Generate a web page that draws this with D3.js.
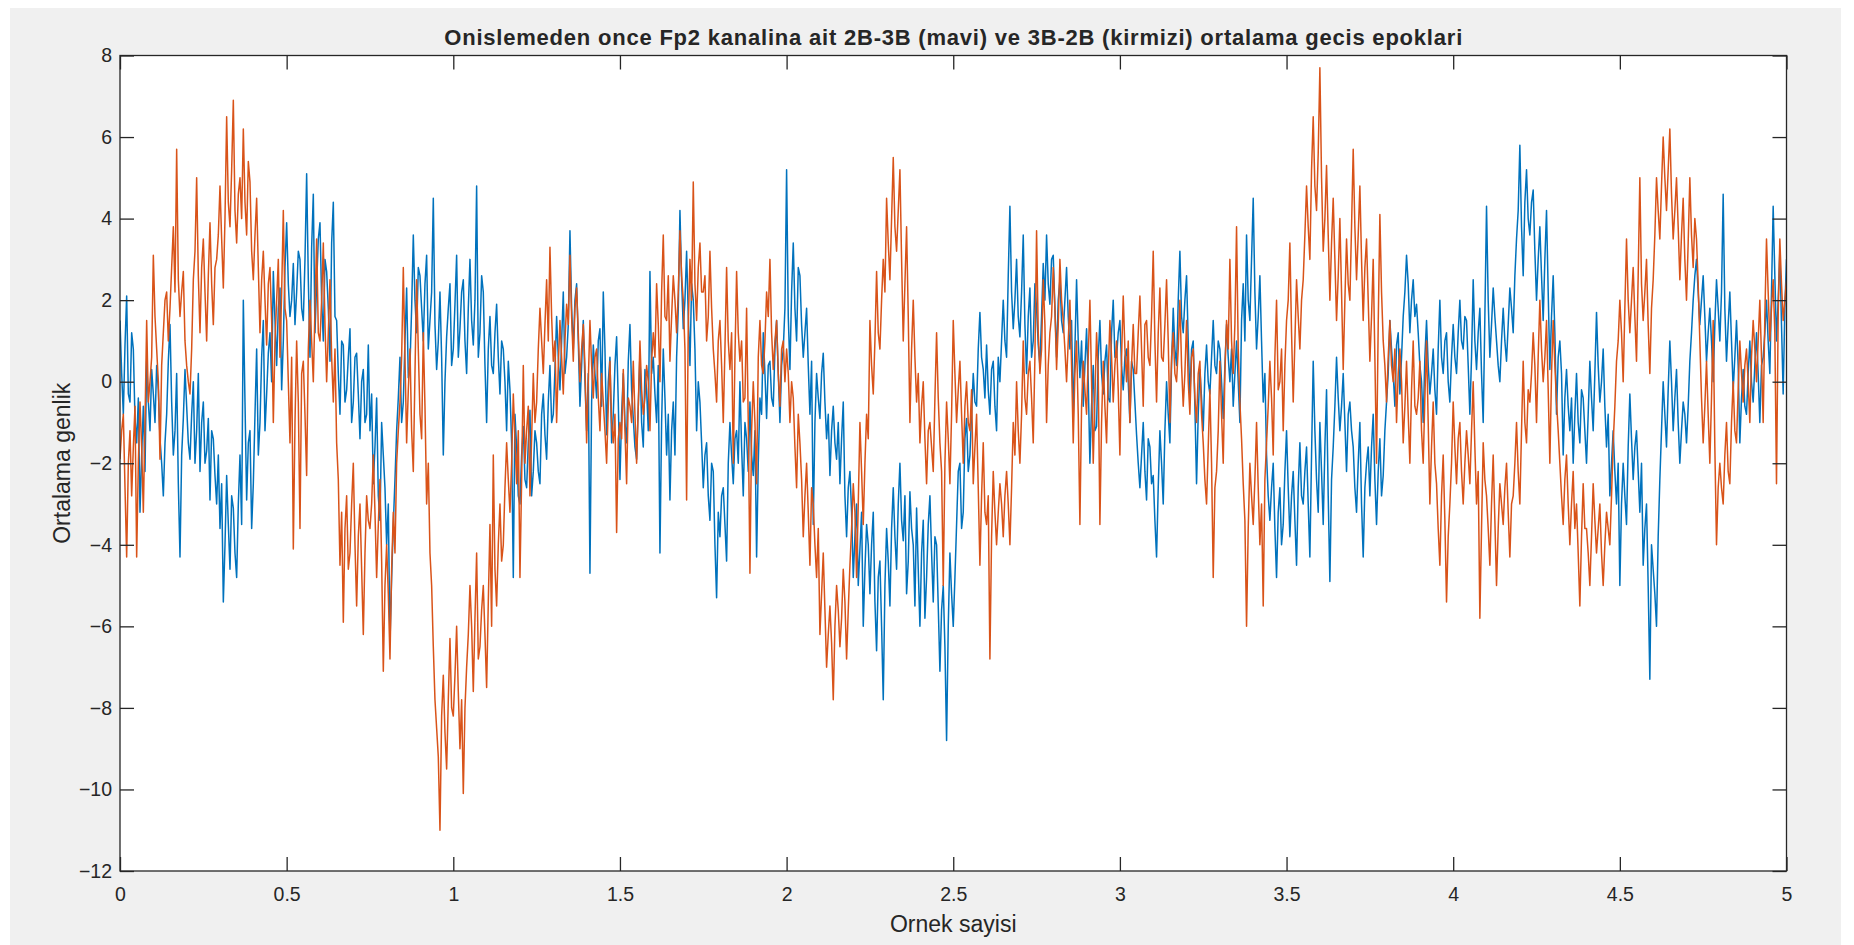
<!DOCTYPE html>
<html>
<head>
<meta charset="utf-8">
<script src="https://cdn.jsdelivr.net/npm/d3@7"></script>
<style>
  html, body { margin: 0; padding: 0; background: #ffffff; }
  svg { display: block; }
  text { font-family: "Liberation Sans", Arial, Helvetica, sans-serif; fill: #262626; }
</style>
</head>
<body>
<svg id="chart" width="1854" height="945"></svg>
<script>
// Averaged transition epochs of channel Fp2.
// Samples on the 0.01 grid (x = 0, 0.01, ..., 5) ...
const mavi = [
  1.5, -0.8, 2.1, -0.5, 0.8,   -1.5, -3.2, -0.6, 0.5, -1.2,
  -0.3, 0.4, -1.4, -2.8, -0.8,  1.4, -1.8, 0.2, -4.3, -0.9,
  -0.6, -1.9, 0.0, -1.2, -2.2,  -0.5, -1.7, -2.9, -1.4, -3.0,
  -3.6, -5.4, -2.3, -4.6, -3.1, -4.8, -1.8, 2.0, -2.9, -1.2,
  -2.5, 0.8, -1.0, 1.5, -0.3,   1.2, 2.7, 0.4, 2.3, 1.0,
  3.9, 1.6, 2.9, 2.2, 3.0,      1.5, 5.1, 0.6, 4.6, 2.4,
  3.9, 1.0, 2.7, 0.5, 4.4,      1.5, -0.8, 0.9, -0.2, 1.3,
  -0.5, 0.7, -1.4, 0.3, -0.8,   -1.2, -2.5, -0.4, -3.4, -1.8,
  -4.0, -6.4, -3.5, -1.2, 0.6,  -0.5, 2.3, 0.4, 3.6, 1.2,
  2.6, 1.0, 3.1, 1.5, 4.5,      0.3, 2.2, -1.8, 1.1, 2.4,
  0.8, 3.1, 1.3, 2.5, 0.2,      3.0, 0.9, 4.8, 1.2, 2.2,
  -1.0, 1.6, 0.2, 1.9, -0.3,    0.8, -1.2, -0.2, -4.8, -1.6,
  -3.0, -1.1, -2.6, -0.7, -2.2, -1.5, -2.5, -0.3, -1.9, 0.4,
  -0.8, 1.6, -0.2, 2.2, 0.6,    3.7, 0.8, 2.4, -0.6, 1.5,
  -1.2, -4.7, 0.9, -0.4, 1.3,   2.2, -1.3, 0.6, -0.8, 1.1,
  -2.4, 0.2, -1.5, 1.4, -0.9,   -1.9, 0.7, -1.6, -0.2, 2.7,
  0.6, -1.0, -4.2, 0.8, -1.8,   -2.9, -0.5, 0.6, 4.2, 1.3,
  3.2, 0.4, 2.0, -1.2, -0.5,    -2.6, -1.5, -3.4, -2.2, -5.3,
  -3.8, -2.6, -4.4, -1.0, -2.5, -1.2, 0.0, -2.8, -1.4, -0.5,
  -2.3, -4.3, -0.4, 1.2, -0.9,  0.5, -0.6, 1.5, -1.0, 0.8,
  5.2, 0.3, 3.4, 1.0, 2.6,      0.6, 1.8, -0.8, -3.5, 0.2,
  -0.9, 0.7, -1.4, -2.3, -0.6,  -1.9, -2.5, -0.5, -3.8, -2.2,
  -4.8, -3.0, -4.1, -6.0, -3.5, -5.2, -3.2, -6.6, -4.4, -7.8,
  -3.6, -5.5, -2.6, -4.6, -2.0, -3.9, -5.2, -2.7, -4.0, -3.1,
  -6.0, -3.4, -4.8, -2.8, -5.4, -4.0, -7.1, -5.0, -8.8, -4.2,
  -6.0, -3.5, -2.0, -3.2, -0.9, -1.8, 0.2, -0.6, 1.7, 0.3,
  0.9, -0.8, 0.5, -1.2, 0.0,    2.0, 0.6, 4.3, 1.3, 3.0,
  1.1, 3.6, 0.2, 2.3, 1.0,      1.8, 0.4, 2.9, 3.6, 1.9,
  3.1, 0.6, 2.5, 1.2, 2.8,      0.8, -0.9, 2.5, 0.1, -0.6,
  1.3, -2.0, 0.4, -1.1, 1.5,    -0.3, 0.9, -0.5, 2.0, 0.6,
  1.5, -0.2, 0.8, -1.0, 0.3,    -1.3, -2.6, -1.0, -2.9, -1.6,
  -2.3, -4.3, -1.2, -3.0, 0.0,  -1.5, 1.8, 0.4, 3.2, 1.2,
  2.6, -0.4, 1.0, -2.5, 0.3,    -1.2, 0.9, -0.3, 1.5, 0.2,
  0.8, -0.9, 1.4, 0.0, -0.6,    1.0, -1.0, 2.4, 3.6, 1.5,
  4.5, 0.8, 2.6, -0.5, -1.8,    -3.4, -2.0, -4.8, -2.6, -3.5,
  -1.2, -3.8, -2.2, -4.5, -1.5, -3.0, -1.6, -4.3, 0.5, -2.4,
  -1.0, -3.5, -0.2, -4.9, -1.6, 0.6, -1.2, 0.2, -2.2, -0.5,
  -1.6, -3.2, -1.0, -4.3, -2.0, -2.8, -0.8, -3.5, -1.4, -2.3,
  -0.5, 1.5, 0.2, 0.9, -0.3,    1.6, 3.1, 1.2, 2.5, 1.9,
  0.4, -1.0, 1.5, -0.3, 0.8,    -0.8, 2.0, 0.2, 1.2, -0.5,
  1.4, 0.2, 2.0, 0.8, 1.5,      -0.8, 2.5, 0.3, 1.8, -1.0,
  4.3, 0.6, 2.3, 1.0, 0.0,      1.8, 0.5, 2.3, 1.2, 3.5,
  5.8, 2.6, 5.2, 3.6, 4.7,      2.0, 3.8, 1.5, 4.2, 0.3,
  2.6, -0.8, 1.0, -1.8, 0.3,    -1.2, -2.0, 0.2, -1.5, -0.4,
  -2.0, 0.5, -1.2, 1.7, -0.5,   0.8, -1.6, -2.8, -1.2, -3.0,
  -5.0, -2.0, -3.5, -0.3, -2.4, -1.2, -3.2, -4.5, -3.0, -7.3,
  -4.6, -6.0, -2.4, 0.0, -1.6,  1.0, -1.2, 0.3, -2.0, -0.5,
  -1.5, 0.5, 2.0, 3.0, 1.4,     2.6, 0.5, 1.8, 0.0, 2.5,
  1.0, 4.6, 0.5, 2.2, -0.2,     1.5, -1.5, 0.3, -0.8, 1.0,
  -0.5, 1.2, -1.0, 0.6, 2.0,    0.2, 4.3, 1.0, 3.2, -0.3,
  3.0
];

const kirmizi = [
  -1.9, -0.8, -4.3, -1.2, -1.6, -4.3, -0.5, -3.2, 1.5, 0.0,
  3.1, 0.8, -1.9, 1.2, 2.2,     1.8, 3.8, 5.7, 1.6, 2.7,
  0.4, -0.3, 2.5, 5.0, 1.2,     3.5, 1.0, 3.9, 1.4, 3.0,
  4.8, 2.3, 6.5, 3.8, 6.9,      3.4, 5.0, 6.2, 3.6, 4.9,
  2.5, 4.5, 1.2, 3.2, 0.9,      2.8, -1.0, 2.0, 0.6, 4.2,
  1.5, -1.5, -4.1, 1.0, -3.6,   0.5, -2.3, 2.0, 0.0, 3.5,
  1.0, 3.4, 0.0, 2.5, -0.5,     -1.5, -4.5, -5.9, -2.8, -4.2,
  -2.0, -5.5, -3.0, -6.2, -2.8, -3.6, -1.8, -4.8, -2.4, -7.1,
  -4.0, -6.8, -3.2, -2.0, -0.5, 2.8, -1.5, 0.8, -2.2, 2.5,
  -0.8, 1.2, -3.0, -4.2, -6.5,  -8.5, -11.0, -7.2, -9.5, -6.3,
  -8.2, -6.0, -9.0, -10.1, -7.0, -5.0, -7.6, -4.2, -6.5, -5.0,
  -7.5, -3.5, -1.8, -5.5, -3.0, -4.0, -1.5, -3.2, -0.3, -2.5,
  -4.8, 0.4, -1.2, -2.8, 0.2,   -0.5, 1.8, 0.2, 2.5, 3.3,
  0.5, -1.0, 1.5, -0.3, 1.9,    3.1, 0.5, 2.3, 0.0, 1.4,
  -1.5, 1.5, -0.4, 0.8, -1.2,   -0.5, -2.0, 0.5, -1.5, -3.7,
  -1.0, 0.3, -2.5, -0.6, 0.5,   -2.0, 1.0, -0.8, 0.4, -1.2,
  1.2, 2.4, 0.0, 3.6, 1.5,      0.5, 2.6, 1.2, 3.7, 2.0,
  -2.9, 3.0, 4.9, 1.5, 3.4,     2.2, 1.0, 3.2, 0.8, -0.5,
  1.5, -1.0, 2.8, 0.3, -2.0,    2.7, 0.5, -0.5, 1.8, -4.7,
  0.0, -2.5, 1.5, 0.2, 2.2,     3.0, 0.3, 1.5, -0.6, 1.0,
  0.8, -1.0, -0.4, -2.6, -1.5,  -3.8, -2.0, -4.5, -3.0, -4.8,
  -6.2, -4.2, -7.0, -5.5, -7.8, -5.0, -6.5, -4.6, -6.8, -4.5,
  -2.5, -4.8, -1.0, -3.5, -0.8, 1.5, -0.3, 2.7, 0.8, 3.0,
  4.5, 2.5, 5.5, 3.2, 5.2,      1.0, 3.8, -1.0, 2.0, -0.5,
  -1.5, 0.0, -2.5, -1.0, -2.2,  1.2, -1.5, -5.0, -0.5, -2.5,
  1.5, -1.0, 0.5, -2.0, 0.0,    -1.2, -2.5, -0.8, -4.5, -1.5,
  -3.5, -6.8, -2.2, -4.0, -2.5, -3.8, -2.2, -4.0, -1.0, 0.0,
  -2.0, 1.0, -0.8, 0.5, -1.5,   3.7, 0.2, 2.5, -1.0, 1.2,
  2.8, 0.3, 3.0, 1.5, 0.0,      2.0, -1.5, 1.0, -3.5, 0.5,
  -0.8, 2.0, -2.0, 1.2, -3.5,   0.5, -1.5, 1.5, -0.5, 1.0,
  -1.8, 2.1, 0.0, -1.0, 1.4,    0.2, 2.1, -0.6, 1.5, 0.4,
  3.2, -0.5, 2.3, 0.5, 2.5,     -1.0, 1.2, 0.0, 2.0, -0.6,
  1.5, -0.8, 0.8, -1.0, 0.5,    -1.5, -3.0, -0.2, -4.8, -2.2,
  0.5, -2.0, 1.5, 3.0, 0.2,     3.8, -0.5, -2.5, -6.0, -2.0,
  -3.5, -1.0, -4.0, -5.5, -1.5, 0.5, -1.8, 2.0, 0.0, -1.2,
  1.5, 3.4, -0.5, 2.5, 0.8,     2.5, 4.8, 3.0, 6.5, 4.2,
  7.7, 3.2, 5.3, 2.0, 4.5,      1.5, 4.0, 0.3, 3.5, 2.0,
  5.7, 2.5, 4.8, 1.5, 3.5,      0.5, 3.0, -2.0, 4.1, 1.0,
  -0.5, 1.5, 0.0, -1.0, 0.8,    -1.5, 0.5, -2.0, 1.0, -0.8,
  0.5, -2.0, 1.0, -3.0, -0.5,   -2.5, -4.5, -1.8, -5.4, -3.0,
  -0.5, -2.5, -1.0, -3.0, -1.2, -2.5, 0.0, -3.0, -5.8, -1.5,
  -2.8, -4.5, -1.8, -5.0, -2.5, -3.5, -2.0, -4.3, -2.8, -1.0,
  -3.0, 0.5, -1.5, -0.5, 1.2,   -1.0, 2.0, 0.0, 1.5, -2.0,
  1.5, -0.5, -2.0, -3.5, -1.8,  -4.0, -2.2, -3.0, -5.5, -2.5,
  -3.6, -5.0, -2.5, -4.2, -3.0, -5.0, -3.2, -4.0, -1.5, 0.5,
  2.0, 0.0, 3.5, 1.2, 2.8,      0.5, 5.0, 1.5, 3.0, 0.2,
  2.5, 5.0, 3.5, 6.0, 4.2,      6.2, 3.5, 5.0, 2.5, 4.5,
  2.0, 5.0, 2.8, 3.5, 1.0,      -1.5, 0.5, -2.0, 1.5, -4.0,
  -2.0, -3.0, -1.0, -2.5, 0.0,  -1.5, 1.0, -0.5, 0.8, -1.0,
  1.5, 0.0, 2.0, -1.0, 3.5,     1.0, 2.5, -2.5, 3.5, 1.5,
  2.5
];

// ... and the samples half way between them (x = 0.005, 0.015, ..., 4.995)
const maviAra = [
  0.2, 0.9, -0.3, 1.2, -0.9,    -0.4, -1.8, -2.2, -0.5, 0.3,
  -1.0, -0.2, -2.0, -1.5, 0.5,  -0.5, -1.2, -2.5, -1.8, 0.3,
  -1.5, -0.8, -2.0, 0.2, -1.0,  -2.0, -0.9, -1.2, -2.3, -1.8,
  -2.5, -4.0, -3.5, -2.8, -4.2, -3.0, -3.5, -0.5, -1.5, -3.6,
  -0.8, -1.8, 0.6, -1.2, 0.7,   0.0, 1.5, 1.8, -0.2, 2.8,
  2.4, 2.0, 1.4, 3.2, 1.8,      3.0, 2.5, 3.3, 1.2, 3.5,
  2.0, 3.0, 1.8, 3.4, 1.6,      0.2, 1.0, -0.5, 0.6, -1.0,
  0.6, -0.3, 0.0, -1.0, 0.9,    -0.3, -1.6, -2.8, -1.0, -2.6,
  -3.0, -4.8, -2.4, -0.4, -1.0, 1.0, 0.1, 1.8, 2.0, 2.8,
  1.8, 2.4, 0.8, 2.2, 1.4,      1.0, 0.6, 0.0, 1.8, 0.4,
  1.9, 0.6, 2.2, 1.0, 1.8,      1.5, 2.0, 0.6, 2.6, 0.4,
  0.8, 0.4, 1.2, 0.6, 1.0,      0.0, 0.5, -1.5, -0.8, -2.8,
  -1.8, -2.4, -1.5, -2.8, -1.2, -2.2, -0.8, -1.3, -0.5, -1.0,
  0.3, 0.6, 1.0, 0.2, 1.4,      1.8, 2.0, 1.0, 0.4, 0.0,
  0.2, -0.5, 0.2, 1.0, -0.6,    0.8, 0.0, -1.5, 0.4, -0.5,
  -0.8, -1.0, 0.5, -0.2, -1.6,  -0.6, -1.0, 0.3, -1.2, 0.2,
  -0.3, 0.4, -1.0, -0.4, -0.8,  -1.2, -1.8, 1.8, 2.5, 2.0,
  1.6, 2.4, 0.8, 0.0, -1.5,     -1.8, -2.8, -2.0, -4.0, -3.2,
  -2.8, -3.5, -2.0, -1.8, -1.4, -2.0, -1.6, -1.0, -2.2, -1.8,
  -1.2, -2.0, -0.8, 0.2, 0.4,   -0.4, 0.8, 0.2, 0.4, 1.8,
  1.6, 2.2, 1.8, 2.8, 1.4,      1.2, 0.4, 0.5, -1.0, -0.4,
  0.2, -0.5, -0.8, -1.2, -1.5,  -1.0, -1.4, -2.8, -2.6, -3.2,
  -3.8, -5.0, -3.2, -4.6, -4.0, -4.0, -5.4, -4.8, -6.0, -5.0,
  -4.4, -3.6, -3.8, -3.0, -3.4, -2.8, -4.4, -3.6, -5.5, -4.6,
  -4.2, -5.8, -3.5, -4.2, -3.8, -5.5, -5.6, -6.5, -6.0, -5.2,
  -4.8, -2.2, -3.6, -1.4, -2.2, -0.8, -0.5, 0.8, 0.6, -0.4,
  -0.2, 0.3, -0.6, 0.6, 1.0,    1.0, 2.6, 2.2, 2.0, 1.6,
  2.2, 1.4, 1.6, 0.6, 2.4,      0.9, 1.6, 2.0, 2.4, 3.0,
  1.8, 2.0, 1.5, 2.0, 1.6,      1.5, 0.8, 1.0, 1.0, 0.4,
  0.0, -0.6, -1.2, 0.6, 0.2,    0.5, -0.4, 1.2, 0.6, 1.2,
  0.4, 0.6, 0.0, 0.5, -0.5,     -2.0, -1.8, -2.2, -1.4, -2.5,
  -3.4, -2.6, -2.0, -1.2, -0.8, 0.4, 0.8, 2.0, 1.6, 2.0,
  1.0, 0.8, -0.6, -0.8, -0.4,   0.2, 0.0, 0.6, 0.4, 1.0,
  0.0, 0.4, 0.6, 0.8, 0.2,      0.0, 1.5, 1.0, 2.0, 3.0,
  2.2, 1.6, 1.0, 0.2, -2.8,     -2.6, -3.6, -3.2, -4.0, -2.2,
  -2.6, -2.8, -3.4, -2.6, -2.8, -2.2, -3.0, -1.8, -1.2, -3.2,
  -2.2, -1.6, -2.8, -2.4, -0.6, -0.4, -0.6, -1.0, -0.8, -1.2,
  -2.6, -2.0, -3.0, -2.6, -1.6, -1.6, -2.4, -2.2, -2.8, -1.2,
  0.2, 0.8, -0.6, 1.2, 0.6,     2.2, 2.4, 2.0, 1.6, 1.2,
  0.0, 0.6, 0.4, 0.2, -0.2,     0.8, 0.6, 1.0, 0.0, 0.6,
  0.6, 1.2, 1.0, 1.6, 0.4,      0.6, 1.0, 1.2, 0.2, 1.6,
  2.0, 1.4, 1.6, 0.4, 1.0,      1.0, 1.4, 1.8, 2.6, 4.2,
  3.8, 4.4, 4.0, 4.4, 3.2,      3.0, 2.6, 3.0, 2.2, 1.6,
  1.2, 0.6, 0.2, -0.4, -0.6,    -0.4, -0.8, -1.0, -0.2, -1.2,
  -0.8, -0.4, 0.2, 0.4, 0.0,    -0.6, -0.8, -2.0, -2.2, -2.0,
  -3.0, -2.8, -1.6, -1.4, -1.6, -2.2, -2.0, -3.6, -5.0, -4.0,
  -5.2, -3.8, -1.2, -0.8, -0.2, 0.0, -0.4, -1.0, -1.2, -0.8,
  -0.6, 1.2, 2.6, 2.2, 2.0,     1.6, 1.2, 1.0, 1.4, 1.8,
  2.2, 1.8, 1.4, 1.0, 0.6,      0.4, -0.4, -0.6, 0.2, 0.0,
  0.4, 0.2, 0.4, 1.2, 1.0,      2.2, 2.6, 2.0, 1.4, 1.8
];

const kirmiziAra = [
  -1.2, -2.6, -2.0, -2.8, -0.6, -2.0, -1.6, -1.0, -0.5, 0.6,
  1.6, 0.0, 0.4, 2.0, 1.0,      2.8, 2.2, 2.5, 2.2, 1.0,
  0.0, 0.8, 3.2, 2.6, 2.8,      2.2, 2.6, 2.4, 2.8, 3.6,
  3.5, 4.0, 4.4, 5.2, 4.2,      4.6, 4.0, 4.4, 5.4, 3.2,
  3.6, 2.8, 2.5, 2.0, 2.4,      1.5, 1.0, 3.0, 2.2, 1.8,
  0.0, 0.6, -1.0, -0.5, 0.2,    -0.8, 0.8, 1.0, 1.8, 1.2,
  2.0, 1.4, 1.2, 0.6, 0.8,      -2.4, -3.2, -3.6, -4.6, -3.0,
  -4.0, -3.8, -4.6, -4.2, -3.4, -3.0, -3.2, -3.5, -4.4, -5.0,
  -5.2, -4.6, -4.2, -1.2, 0.6,  0.6, -0.2, -1.2, 0.2, 0.8,
  -1.4, -0.6, -2.0, -5.0, -7.8, -9.2, -8.2, -8.6, -7.8, -8.0,
  -7.2, -7.6, -7.8, -8.0, -6.2, -6.0, -5.8, -6.8, -5.6, -6.2,
  -5.4, -6.0, -4.6, -4.0, -4.4, -2.6, -2.4, -2.0, -1.4, -1.2,
  -2.4, -2.0, -0.6, -1.4, -1.0, 0.8, 1.0, 1.4, 1.0, 1.6,
  1.0, 0.4, 0.6, 1.0, 1.4,      1.6, 1.8, 1.2, 0.8, 0.4,
  0.0, 0.4, 0.6, -0.4, 0.2,     -1.2, -0.6, -1.0, -0.8, -1.4,
  -1.4, -1.2, -0.4, -1.0, -0.8, -0.6, -0.2, -0.4, 0.0, 0.5,
  0.6, 1.4, 2.2, 1.6, 2.6,      1.6, 2.0, 2.2, 2.6, 0.8,
  1.4, 2.0, 2.4, 2.8, 2.2,      2.6, 1.6, 1.8, 0.2, 1.0,
  0.4, 0.8, 1.0, 1.2, 0.6,      1.2, 1.0, -0.4, -1.0, -1.2,
  -1.0, 0.6, 0.4, 1.0, 1.6,     1.2, 1.0, 0.2, 0.8, 0.0,
  0.2, 0.0, -1.6, -0.8, -2.4,   -2.8, -3.2, -2.6, -4.0, -3.6,
  -5.2, -5.6, -6.2, -6.4, -6.0, -5.6, -5.8, -5.4, -5.6, -3.6,
  -3.2, -3.0, -2.2, -2.0, -1.4, 0.4, 1.0, 1.2, 2.0, 2.2,
  3.4, 4.0, 3.8, 4.2, 3.0,      2.4, 1.6, 0.8, 0.6, 0.2,
  -0.6, -1.4, -1.2, -1.6, -0.4, -0.4, -2.2, -2.0, -1.4, -0.8,
  0.2, -0.2, -0.8, -0.6, -1.0,  -0.2, -1.6, -2.6, -2.8, -3.2,
  -2.8, -3.8, -3.2, -3.2, -3.0, -2.8, -3.0, -2.6, -1.8, -1.2,
  -0.8, -0.4, 0.2, -0.4, 0.6,   1.2, 0.8, 1.4, 0.4, 1.6,
  1.8, 1.4, 2.0, 0.8, 1.0,      0.4, 0.2, -0.8, -0.6, -0.2,
  0.6, 0.0, -0.4, 0.2, -1.0,    -0.6, 0.2, 0.6, 0.4, -0.2,
  0.6, 0.8, 1.0, 0.4, 0.2,      1.2, 0.8, 1.4, 0.6, 1.6,
  1.0, 1.2, 0.6, 1.4, 1.0,      0.6, 0.2, 0.8, 0.4, 0.2,
  0.0, 0.6, -0.4, 0.2, -0.8,    -2.4, -1.6, -2.0, -2.6, -1.2,
  -0.8, 0.2, 0.8, 1.0, 1.4,     0.8, -1.4, -3.4, -3.6, -2.8,
  -2.4, -2.6, -3.0, -2.4, -0.6, -0.4, 0.6, -0.2, 0.8, 0.4,
  2.0, 1.2, 1.0, 1.6, 2.0,      3.6, 3.8, 5.2, 4.8, 5.6,
  5.0, 4.0, 3.6, 3.4, 3.0,      2.6, 2.2, 2.0, 2.4, 3.8,
  3.8, 3.6, 3.0, 2.8, 2.0,      1.6, 0.6, 1.4, 2.2, 0.4,
  0.6, 0.4, 0.8, 0.2, 0.0,      -0.6, -0.8, -0.2, -0.6, -0.4,
  -1.2, -0.4, -1.0, -1.6, -2.0, -3.6, -2.8, -3.4, -3.8, -2.0,
  -1.6, -1.4, -2.2, -2.0, -1.8, -1.2, -1.6, -2.2, -3.6, -2.4,
  -3.6, -3.0, -3.4, -3.6, -3.0, -2.6, -3.2, -3.0, -2.0, -2.2,
  -1.2, -1.0, -0.2, 0.2, 0.4,   0.6, 0.8, 0.6, -0.2, 0.2,
  0.4, -1.2, -2.8, -2.4, -3.0,  -3.0, -3.6, -4.2, -3.8, -3.6,
  -4.2, -3.8, -3.4, -3.6, -4.2, -4.0, -3.6, -2.8, -0.6, 1.0,
  1.2, 1.8, 2.0, 2.0, 1.6,      2.6, 2.4, 2.2, 1.4, 1.8,
  3.6, 4.2, 4.8, 5.0, 5.2,      4.6, 4.2, 3.8, 3.6, 3.0,
  3.4, 3.6, 4.0, 2.4, -0.4,     -0.6, -0.8, -0.4, -1.6, -2.6,
  -2.6, -1.8, -2.2, -1.0, -1.2, -0.2, 0.2, 0.4, 0.0, 0.6,
  0.8, 1.0, 0.6, 1.6, 2.2,      1.8, 1.2, 1.6, 2.4, 2.0
];

const sampleStep = 0.005;
const xTicks = [0, 0.5, 1, 1.5, 2, 2.5, 3, 3.5, 4, 4.5, 5];
const yTicks = [-12, -10, -8, -6, -4, -2, 0, 2, 4, 6, 8];

const titleText = "Onislemeden once Fp2 kanalina ait 2B-3B (mavi) ve 3B-2B (kirmizi) ortalama gecis epoklari";
const xLabelText = "Ornek sayisi";
const yLabelText = "Ortalama genlik";

// weave the two sample grids into one series on the 0.005 grid
function weave(onGrid, between) {
  const out = [];
  onGrid.forEach((v, i) => {
    out.push(v);
    if (i < between.length) out.push(between[i]);
  });
  return out;
}
const blueSeries = weave(mavi, maviAra);
const redSeries = weave(kirmizi, kirmiziAra);

const W = 1854, H = 945;
const plot = { left: 120, right: 1786.5, top: 55.5, bottom: 871 };
const tickLen = 14;
const axisColor = "#262626";
const fontStack = '"Liberation Sans", Arial, Helvetica, sans-serif';

const svg = d3.select("#chart");

// figure background
svg.append("rect").attr("x", 0).attr("y", 0).attr("width", W).attr("height", H).attr("fill", "#ffffff");
svg.append("rect").attr("x", 10).attr("y", 8).attr("width", 1831).attr("height", H - 8).attr("fill", "#f0f0f0");

const x = d3.scaleLinear().domain([0, 5]).range([plot.left, plot.right]);
const y = d3.scaleLinear().domain([-12, 8]).range([plot.bottom, plot.top]);

// axes background
svg.append("rect")
  .attr("x", plot.left).attr("y", plot.top)
  .attr("width", plot.right - plot.left).attr("height", plot.bottom - plot.top)
  .attr("fill", "#ffffff");

svg.append("clipPath").attr("id", "plotClip")
  .append("rect")
  .attr("x", plot.left).attr("y", plot.top)
  .attr("width", plot.right - plot.left).attr("height", plot.bottom - plot.top);

const line = d3.line()
  .x((d, i) => x(i * sampleStep))
  .y(d => y(d));

const lines = svg.append("g").attr("clip-path", "url(#plotClip)");
lines.append("path").datum(blueSeries)
  .attr("fill", "none").attr("stroke", "#0072bd").attr("stroke-width", 1.5)
  .attr("stroke-linejoin", "round").attr("d", line);
lines.append("path").datum(redSeries)
  .attr("fill", "none").attr("stroke", "#d95319").attr("stroke-width", 1.5)
  .attr("stroke-linejoin", "round").attr("d", line);

// axes (ticks pointing inward, box on)
const fmt = d => d3.format("~g")(d);

function styleAxis(g) {
  g.select(".domain").remove();
  g.selectAll(".tick line").attr("stroke", axisColor).attr("stroke-width", 1.3);
  g.selectAll(".tick text")
    .attr("fill", axisColor)
    .style("font-family", fontStack)
    .style("font-size", "19.5px");
}

svg.append("g")
  .attr("transform", `translate(0,${plot.bottom})`)
  .call(d3.axisBottom(x).tickValues(xTicks).tickFormat(fmt).tickSizeInner(-tickLen).tickSizeOuter(0).tickPadding(16))
  .call(styleAxis);

svg.append("g")
  .attr("transform", `translate(0,${plot.top})`)
  .call(d3.axisTop(x).tickValues(xTicks).tickFormat("").tickSizeInner(-tickLen).tickSizeOuter(0))
  .call(styleAxis);

svg.append("g")
  .attr("transform", `translate(${plot.left},0)`)
  .call(d3.axisLeft(y).tickValues(yTicks).tickFormat(fmt).tickSizeInner(-tickLen).tickSizeOuter(0).tickPadding(8))
  .call(styleAxis);

svg.append("g")
  .attr("transform", `translate(${plot.right},0)`)
  .call(d3.axisRight(y).tickValues(yTicks).tickFormat("").tickSizeInner(-tickLen).tickSizeOuter(0))
  .call(styleAxis);

// axes box
svg.append("rect")
  .attr("x", plot.left).attr("y", plot.top)
  .attr("width", plot.right - plot.left).attr("height", plot.bottom - plot.top)
  .attr("fill", "none").attr("stroke", axisColor).attr("stroke-width", 1.3);

// title and axis labels
svg.append("text")
  .attr("x", (plot.left + plot.right) / 2).attr("y", 45)
  .attr("text-anchor", "middle")
  .attr("textLength", 1018).attr("lengthAdjust", "spacing")
  .style("font-size", "22px").style("font-weight", "bold")
  .text(titleText);

svg.append("text")
  .attr("x", (plot.left + plot.right) / 2).attr("y", 932)
  .attr("text-anchor", "middle")
  .style("font-size", "23px")
  .text(xLabelText);

svg.append("text")
  .attr("transform", `translate(69.5,${(plot.top + plot.bottom) / 2}) rotate(-90)`)
  .attr("text-anchor", "middle")
  .style("font-size", "23px")
  .text(yLabelText);
</script>
</body>
</html>
